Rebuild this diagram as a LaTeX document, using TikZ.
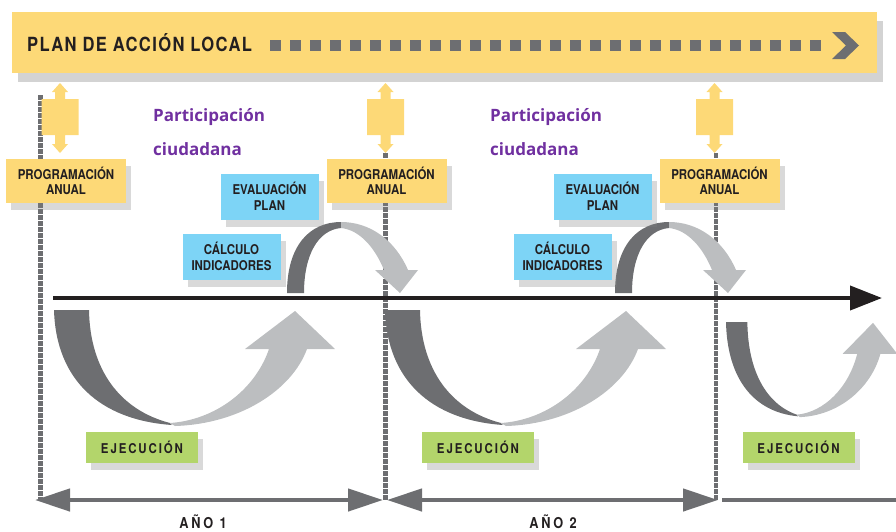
\documentclass[tikz,border=0pt]{standalone}
\usepackage{fontspec}
\setmainfont{TeX Gyre Heros}
\newfontfamily\condfont[FakeStretch=0.85]{TeX Gyre Heros}
\newfontfamily\partfont{Open Sans}
\usetikzlibrary{arrows.meta,shadows}

\definecolor{amarillo}{HTML}{FDD977}
\definecolor{azul}{HTML}{7DD4F6}
\definecolor{verde}{HTML}{B3D56B}
\definecolor{morado}{HTML}{7030A0}
\definecolor{grisosc}{HTML}{6D6E71}
\definecolor{grisclr}{HTML}{BCBEC0}
\definecolor{negro}{HTML}{231F20}

\tikzset{
  sombra/.style={drop shadow={shadow xshift=5pt, shadow yshift=-7pt, opacity=0.3}},
  caja/.style={rectangle, text=negro, align=center, inner sep=0pt, sombra,
    font=\condfont\bfseries\fontsize{13.5}{15.5}\selectfont},
  programa/.style={caja, fill=amarillo, minimum width=120pt, minimum height=44pt},
  evalua/.style={caja, fill=azul, minimum width=98pt, minimum height=46pt},
  ejecuta/.style={caja, fill=verde, minimum width=112pt, minimum height=31pt,
    font=\condfont\bfseries\fontsize{13.5}{15.5}\selectfont\addfontfeature{LetterSpace=14}},
  banda/.style={rectangle, fill=amarillo, minimum width=865pt, minimum height=61pt, inner sep=0pt,
    drop shadow={shadow xshift=6pt, shadow yshift=-9pt, opacity=0.35}},
  titulo/.style={text=negro, inner sep=0pt,
    font=\condfont\bfseries\fontsize{19.5}{20}\selectfont\addfontfeature{LetterSpace=7}},
  anyo/.style={text=negro, inner sep=0pt,
    font=\condfont\bfseries\fontsize{15}{16}\selectfont\addfontfeature{LetterSpace=18}},
  part/.style={text=morado, align=left, inner sep=0pt,
    font=\partfont\bfseries\fontsize{17}{34}\selectfont},
  periodo/.style={grisosc, line width=4.5pt,
    {Triangle[length=35pt,width=22pt]}-{Triangle[length=35pt,width=22pt]}},
  corte/.style={grisosc, line width=4.5pt, dash pattern=on 4.5pt off 1.5pt}
}

\begin{document}
\begin{tikzpicture}[x=1pt,y=-1pt]
\useasboundingbox (0,0) rectangle (896,531);

% lineas de corte anuales
\draw[corte] (40.5,95) -- (40.5,500);
\foreach \x in {385.5,716}
  \draw[corte] (\x,153) -- (\x,500);

% plan de accion local
\node[banda] (plan) at (444.5,42.5) {};
\node[titulo, anchor=base west] (titulo) at (27,51) {PLAN DE ACCIÓN LOCAL};
\draw[grisosc, line width=11pt, dash pattern=on 11pt off 9pt] (270,45) -- (830,45);
\fill[grisosc] (832,32) -- (845,32) -- (859,45.5) -- (845,59) -- (832,59) -- (846,45.5) -- cycle;

% flechas dobles amarillas
\foreach \x in {60,385.5,714.5}
  \fill[amarillo] (\x,83) -- (\x+8,92) -- (\x+5,92) -- (\x+5,99) -- (\x+18.5,99) -- (\x+18.5,135)
    -- (\x+5,135) -- (\x+5,144) -- (\x+8,144) -- (\x,153) -- (\x-8,144) -- (\x-5,144) -- (\x-5,135)
    -- (\x-18.5,135) -- (\x-18.5,99) -- (\x-5,99) -- (\x-5,92) -- (\x-8,92) -- cycle;

% arcos de ejecucion
\foreach \ox/\oy/\sx/\sy in {54/310/1/1, 385/310/1/1, 726/322/0.61/0.82}{
  \begin{scope}[shift={(\ox,\oy)}, xscale=\sx, yscale=\sy]
    \fill[grisosc] (0,0) .. controls (2,70) and (46,110) .. (118,115) -- (116,113)
      .. controls (66,100) and (36,60) .. (35,0) -- cycle;
    \fill[grisclr] (116,113) .. controls (161,110) and (201,80) .. (215,39) -- (191,39) -- (241,1)
      -- (281,39) -- (253,39) .. controls (238,80) and (186,114) .. (121,116) -- cycle;
  \end{scope}
}

% arcos de evaluacion
\foreach \ox in {287,615}{
  \begin{scope}[shift={(\ox,293)}]
    \fill[grisosc] (0,0) .. controls (0,-48) and (23,-71) .. (54,-71) -- (54,-65)
      .. controls (31,-63) and (17,-38) .. (17,0) -- cycle;
    \fill[grisclr] (54,-71) .. controls (83,-71) and (108,-53) .. (121,-23) -- (131,-23) -- (113,0)
      -- (88,-23) -- (97,-23) .. controls (88,-45) and (73,-63) .. (54,-65) -- cycle;
  \end{scope}
}

% eje del tiempo
\coordinate (ini) at (53,298);
\coordinate (fin) at (882,298);
\draw[negro, line width=4pt, -{Triangle[length=32pt,width=24pt]}] (ini) -- (fin);

% cajas
\node[programa] (prog1) at (66,181) {PROGRAMACIÓN\\ANUAL};
\node[programa] (prog2) at (386.5,181) {PROGRAMACIÓN\\ANUAL};
\node[programa] (prog3) at (719.5,181) {PROGRAMACIÓN\\ANUAL};
\node[evalua] (eval1) at (269.5,196.5) {EVALUACIÓN\\PLAN};
\node[evalua] (eval2) at (602.5,196.5) {EVALUACIÓN\\PLAN};
\node[evalua] (calc1) at (231.5,256.5) {CÁLCULO\\INDICADORES};
\node[evalua] (calc2) at (562.5,256.5) {CÁLCULO\\INDICADORES};
\node[ejecuta] (ejec1) at (142,447.5) {EJECUCIÓN};
\node[ejecuta] (ejec2) at (478,447.5) {EJECUCIÓN};
\node[ejecuta] (ejec3) at (798.5,447.5) {EJECUCIÓN};

\node[part, anchor=north west] (part1) at (153,108) {Participación\\ciudadana};
\node[part, anchor=north west] (part2) at (490,108) {Participación\\ciudadana};

% periodos anuales
\coordinate (a1) at (35,500);
\coordinate (a2) at (383,500);
\coordinate (a3) at (387,500);
\coordinate (a4) at (718,500);
\coordinate (a5) at (722,500);
\coordinate (a6) at (896,500);
\draw[periodo] (a1) -- (a2);
\draw[periodo] (a3) -- (a4);
\draw[grisosc, line width=4.5pt] (a5) -- (a6);
\node[anyo, anchor=base] (anyo1) at (203,528.5) {AÑO 1};
\node[anyo, anchor=base] (anyo2) at (553,528.5) {AÑO 2};
\end{tikzpicture}
\end{document}
